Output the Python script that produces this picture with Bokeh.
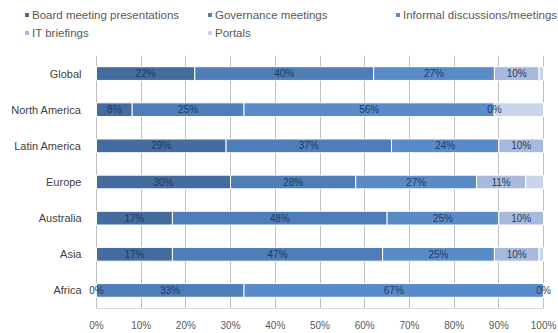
from bokeh.plotting import figure
from bokeh.layouts import column
from bokeh.models import (ColumnDataSource, FactorRange, NumeralTickFormatter,
                          FixedTicker, LabelSet, Div)
from bokeh.core.properties import value
from bokeh.embed import file_html
from bokeh.resources import INLINE

regions = ["Global", "North America", "Latin America", "Europe", "Australia", "Asia", "Africa"]
series = ["Board meeting presentations", "Governance meetings", "Informal discussions/meetings", "IT briefings", "Portals"]
board = [22, 8, 29, 30, 17, 17, 0]
governance = [40, 25, 37, 28, 48, 47, 33]
informal = [27, 56, 24, 27, 25, 25, 67]
it_briefings = [10, 0, 10, 11, 10, 10, 0]
portals = [1, 11, 0, 4, 0, 1, 0]
colors = ["#456C9E", "#4E7DB8", "#5A8BC9", "#A9B9DC", "#CBD5EA"]
labelled = [True, True, True, True, False]

keys = ["s0", "s1", "s2", "s3", "s4"]
data = {"region": regions}
for k, arr in zip(keys, [board, governance, informal, it_briefings, portals]):
    data[k] = [v / 100 for v in arr]
src = ColumnDataSource(data)

p = figure(width=558, height=278, output_backend="svg", toolbar_location=None,
           y_range=FactorRange(*reversed(regions)), x_range=(-0.02, 1.02),
           min_border_left=87, min_border_right=6, min_border_top=0, min_border_bottom=22)

rs = p.hbar_stack(keys, y="region", height=0.38, color=colors, source=src,
                  line_color="white", line_width=1)

# data labels (portals are not labelled in the original)
lx, ly, lt = [], [], []
cum = [0] * len(regions)
for arr, show in zip([board, governance, informal, it_briefings, portals], labelled):
    for i, v in enumerate(arr):
        if show:
            lx.append((cum[i] + v / 2) / 100)
            ly.append(regions[i])
            lt.append(f"{v}%")
        cum[i] += v
lsrc = ColumnDataSource(dict(x=lx, y=ly, t=lt))
p.add_layout(LabelSet(x="x", y="y", text="t", source=lsrc, text_align="center",
                      text_baseline="middle", text_font=value("Liberation Sans"),
                      text_font_size="10px", text_color="#1F3A5F"))

p.xaxis.ticker = FixedTicker(ticks=[i / 10 for i in range(11)])
p.xaxis.formatter = NumeralTickFormatter(format="0%")
p.xaxis.bounds = (0, 1)
p.xaxis.major_label_text_font = "Liberation Sans"
p.xaxis.major_label_text_font_size = "10px"
p.xaxis.major_label_text_color = "#595959"
p.xaxis.axis_line_color = "#D9D9D9"
p.xaxis.major_tick_line_color = None
p.xaxis.minor_tick_line_color = None
p.yaxis.major_label_text_font = "Liberation Sans"
p.yaxis.major_label_text_font_size = "11px"
p.yaxis.major_label_text_color = "#404040"
p.yaxis.axis_line_color = None
p.yaxis.major_tick_line_color = None
p.yaxis.major_label_standoff = 0
p.xgrid.grid_line_color = "#BFBFBF"
p.ygrid.grid_line_color = None
p.outline_line_color = None

# legend strip above the chart, laid out in two rows like the original
cols_x = [25, 208, 396]
rows_y = [15, 33]
parts = []
for i, (name, c) in enumerate(zip(series, colors)):
    x = cols_x[i % 3]
    y = rows_y[i // 3]
    parts.append(f'<span style="position:absolute;left:{x}px;top:{y - 2}px;width:4px;height:4px;background:{c};"></span>')
    parts.append(f'<span style="position:absolute;left:{x + 7}px;top:{y - 7}px;line-height:14px;white-space:nowrap;">{name}</span>')
html = ('<div style="position:relative;width:558px;height:55px;font-family:\'Liberation Sans\',Arial,sans-serif;'
        'font-size:11.5px;color:#595959;">' + "".join(parts) + '</div>')
legend = Div(text=html, width=558, height=55, margin=0)

layout = column(legend, p, spacing=0)
open("out.html", "w").write(file_html(layout, INLINE))
